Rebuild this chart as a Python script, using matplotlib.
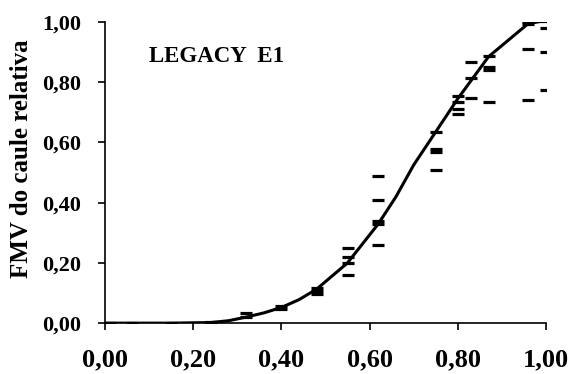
import numpy as np
import matplotlib
matplotlib.use("Agg")
import matplotlib.pyplot as plt

# observed values (dash markers)
x_obs = [0.01, 0.06, 0.15, 0.24,
         0.32, 0.32,
         0.40, 0.40,
         0.48, 0.48, 0.48,
         0.55, 0.55, 0.55, 0.55,
         0.62, 0.62, 0.62, 0.62, 0.62,
         0.75, 0.75, 0.75, 0.75,
         0.80, 0.80, 0.80, 0.80,
         0.83, 0.83, 0.83,
         0.87, 0.87, 0.87, 0.87,
         0.96, 0.96, 0.96, 0.96,
         1.00, 1.00, 1.00, 1.00]
y_obs = [0.0, 0.0, 0.0, 0.004,
         0.035, 0.022,
         0.057, 0.048,
         0.118, 0.108, 0.098,
         0.25, 0.22, 0.20, 0.16,
         0.49, 0.41, 0.34, 0.33, 0.26,
         0.635, 0.578, 0.568, 0.51,
         0.755, 0.735, 0.71, 0.693,
         0.867, 0.815, 0.748,
         0.888, 0.852, 0.842, 0.735,
         1.0, 0.995, 0.91, 0.74,
         1.005, 0.98, 0.90, 0.775]

# fitted curve
x_fit = [0.0, 0.06, 0.15, 0.24, 0.28, 0.32, 0.36, 0.40, 0.44, 0.48, 0.55,
         0.62, 0.66, 0.70, 0.75, 0.80, 0.87, 0.96, 1.00]
y_fit = [0.0, 0.0, 0.0, 0.002, 0.008, 0.02, 0.034, 0.052, 0.078, 0.113, 0.20,
         0.33, 0.42, 0.525, 0.635, 0.745, 0.885, 0.995, 1.005]

ticks = [0.0, 0.2, 0.4, 0.6, 0.8, 1.0]
tick_labels = ["0,00", "0,20", "0,40", "0,60", "0,80", "1,00"]

plt.rcParams['font.family'] = ['Liberation Serif', 'DejaVu Serif']
plt.rcParams['font.weight'] = 'bold'

fig = plt.figure(figsize=(5.68, 3.74), dpi=100)
ax = fig.add_axes([0.185, 0.136, 0.776, 0.805])

ax.plot(x_fit, y_fit, color='black', lw=2.2, zorder=2)
ax.plot(x_obs, y_obs, linestyle='none', marker='_', markersize=8,
        mew=2.3, color='black', zorder=3)

ax.set_xlim(0, 1)
ax.set_ylim(0, 1)
ax.set_xticks(ticks)
ax.set_yticks(ticks)
ax.set_xticklabels(tick_labels, fontsize=19, fontweight='bold')
ax.set_yticklabels(tick_labels, fontsize=16, fontweight='bold')
ax.tick_params(direction='out', length=5, width=1.2)
ax.tick_params(axis='x', pad=13)
ax.tick_params(axis='y', pad=12)

ax.spines['top'].set_visible(False)
ax.spines['right'].set_visible(False)
ax.spines['left'].set_linewidth(1.2)
ax.spines['bottom'].set_linewidth(1.2)

ax.set_ylabel("FMV do caule relativa", fontsize=18, fontweight='bold')
ax.yaxis.set_label_coords(-0.163, 0.545)
ax.text(0.10, 0.885, "LEGACY  E1", fontsize=16.5, fontweight='bold', va='center')

fig.savefig("out.png", dpi=100)
